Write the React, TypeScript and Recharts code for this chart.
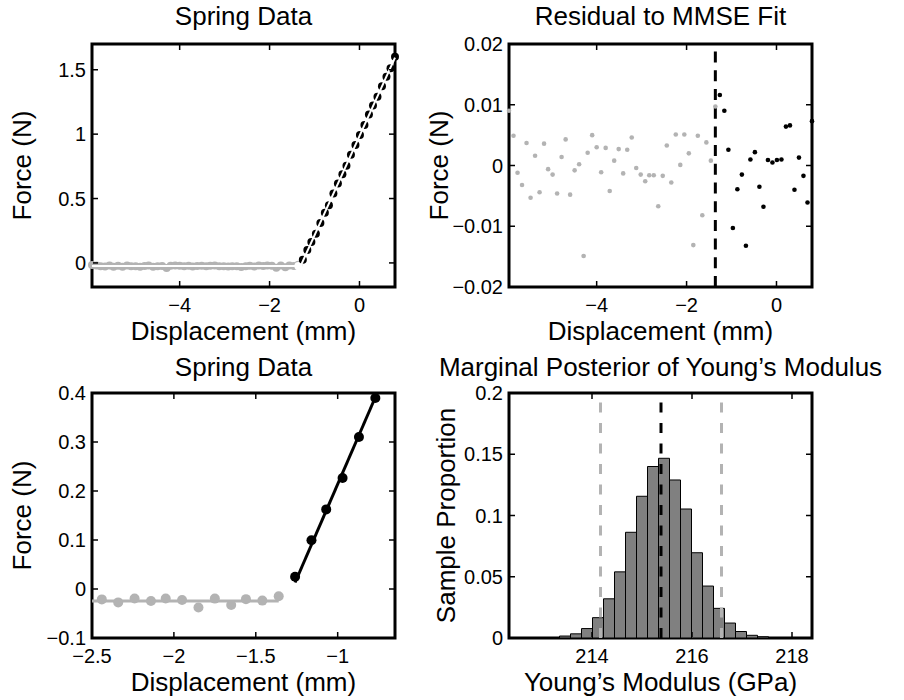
import React from 'react';
import { ComposedChart, Scatter, XAxis, YAxis, ReferenceLine, ReferenceArea, Bar } from 'recharts';

// ---------- data ----------
const displacement = [
  -5.95, -5.85, -5.76, -5.66, -5.56, -5.47, -5.37, -5.27, -5.17, -5.08,
  -4.98, -4.88, -4.78, -4.69, -4.59, -4.49, -4.39, -4.29, -4.2, -4.1,
  -4.0, -3.9, -3.8, -3.71, -3.61, -3.51, -3.41, -3.32, -3.22, -3.12,
  -3.02, -2.92, -2.83, -2.73, -2.63, -2.53, -2.44, -2.34, -2.24, -2.14,
  -2.05, -1.95, -1.85, -1.75, -1.65, -1.56, -1.46, -1.36, -1.26, -1.16,
  -1.07, -0.97, -0.87, -0.77, -0.68, -0.58, -0.48, -0.38, -0.29, -0.19,
  -0.09, 0.01, 0.11, 0.21, 0.3, 0.4, 0.5, 0.6, 0.69, 0.79,
];
const force = [
  -0.0155, -0.0196, -0.0257, -0.0277, -0.0208, -0.0298, -0.0229, -0.0289, -0.0209, -0.0251,
  -0.026, -0.0291, -0.0231, -0.0202, -0.0293, -0.0253, -0.0243, -0.0394, -0.0224, -0.0195,
  -0.0215, -0.0256, -0.0216, -0.0287, -0.0237, -0.0218, -0.0258, -0.0219, -0.0199, -0.0249,
  -0.026, -0.0271, -0.0261, -0.0261, -0.0312, -0.0262, -0.0212, -0.0273, -0.0194, -0.0244,
  -0.0194, -0.0225, -0.0376, -0.0196, -0.0327, -0.0207, -0.0237, -0.0148, 0.0249, 0.0995,
  0.1625, 0.2267, 0.3102, 0.3898, 0.4475, 0.5388, 0.6172, 0.6886, 0.7547, 0.8395,
  0.9163, 0.9938, 1.071, 1.1535, 1.2232, 1.2897, 1.3721, 1.4463, 1.5113, 1.6018,
];
const residual = [
  0.009, 0.0049, -0.0012, -0.0032, 0.0037, -0.0053, 0.0016, -0.0044, 0.0036, -0.0006,
  -0.0015, -0.0046, 0.0014, 0.0043, -0.0048, -0.0008, 0.0002, -0.0149, 0.0021, 0.005,
  0.003, -0.0011, 0.0029, -0.0042, 0.0008, 0.0027, -0.0013, 0.0026, 0.0046, -0.0004,
  -0.0015, -0.0026, -0.0016, -0.0016, -0.0067, -0.0017, 0.0033, -0.0028, 0.0051, 0.0001,
  0.0051, 0.002, -0.0131, 0.0049, -0.0082, 0.0038, 0.0008, 0.0097, 0.0116, 0.009,
  0.0026, -0.0103, -0.0039, -0.0015, -0.0132, 0.001, 0.0022, -0.0035, -0.0068, 0.0009,
  0.0005, 0.0009, 0.001, 0.0064, 0.0066, -0.004, 0.0013, -0.0017, -0.0061, 0.0073,
];
const contactIndex = 48; // first point in contact (black)
const zoomStart = 36;
const zoomEnd = 54;

// MMSE fit lines (displacement, force)
const flatFitX = [-5.95, -1.31];
const flatFitY = [-0.0245, -0.0245];
const slopeFitX = [-1.31, 0.79];
const slopeFitY = [-0.0245, 1.5945];
const contactPointX = [-1.36];
const contactPointY = [-0.0245];
const zoomFlatFitX = [-5.95, -1.36];
const zoomFlatFitY = [-0.0245, -0.0245];
const zoomSlopeFitX = [-1.26, -0.77];
const zoomSlopeFitY = [0.0133, 0.3913];
const contactThreshold = -1.36;

// Histogram of Young's modulus
const modulusBins = [
  213.46, 213.68, 213.9, 214.12, 214.34, 214.56, 214.78, 215.0, 215.22, 215.44,
  215.66, 215.88, 216.1, 216.32, 216.54, 216.76, 216.98, 217.2, 217.42,
];
const proportion = [
  0.0016, 0.0034, 0.0077, 0.0166, 0.032, 0.054, 0.0863, 0.1157, 0.14, 0.1467,
  0.129, 0.1053, 0.0696, 0.0424, 0.0242, 0.0122, 0.0053, 0.0022, 0.001,
];
const posteriorMean = 215.38;
const credibleLow = 214.17;
const credibleHigh = 216.59;

// axis ranges and ticks
const fullXDomain = [-5.95, 0.79];
const fullXTicks = [-4, -2, 0];
const forceDomain = [-0.187, 1.7];
const forceTicks = [0, 0.5, 1, 1.5];
const residualDomain = [-0.02, 0.02];
const residualTicks = [-0.02, -0.01, 0, 0.01, 0.02];
const zoomXDomain = [-2.5, -0.65];
const zoomXTicks = [-2.5, -2, -1.5, -1];
const zoomYDomain = [-0.1, 0.4];
const zoomYTicks = [-0.1, 0, 0.1, 0.2, 0.3, 0.4];
const modulusDomain = [212.34, 218.4];
const modulusTicks = [214, 216, 218];
const proportionDomain = [0, 0.2];
const proportionTicks = [0, 0.05, 0.1, 0.15, 0.2];

// ---------- styling ----------
const FONT = '"Liberation Sans", Arial, Helvetica, sans-serif';
const GRAY = '#b3b3b3';
const ML = 70, MT = 10, MR = 10, XH = 40;

type Geo = { left: number; top: number; w: number; h: number };
const G1: Geo = { left: 92, top: 44, w: 303, h: 243 };
const G2: Geo = { left: 509, top: 44, w: 303, h: 243 };
const G3: Geo = { left: 92, top: 393, w: 303, h: 245 };
const G4: Geo = { left: 509, top: 393, w: 303, h: 245 };

const fmt = (v: number) => String(v).replace('-', '\u2212');

const pts = (xs: number[], ys: number[]) => xs.map((x, i) => ({ x, y: ys[i] }));

const xTick = (g: Geo) => (props: any) => {
  const { x, payload } = props;
  const top = MT, bottom = MT + g.h;
  return (
    <g>
      <line x1={x} x2={x} y1={bottom - 1} y2={bottom - 6} stroke="#000" strokeWidth={1.5} />
      <line x1={x} x2={x} y1={top + 1} y2={top + 6} stroke="#000" strokeWidth={1.5} />
      <text x={x} y={bottom + 24.5} textAnchor="middle" fontSize={20} fontFamily={FONT} fill="#000">
        {fmt(payload.value)}
      </text>
    </g>
  );
};

const yTick = (g: Geo) => (props: any) => {
  const { y, payload } = props;
  const left = ML, right = ML + g.w;
  return (
    <g>
      <line x1={left + 1} x2={left + 6} y1={y} y2={y} stroke="#000" strokeWidth={1.5} />
      <line x1={right - 1} x2={right - 6} y1={y} y2={y} stroke="#000" strokeWidth={1.5} />
      <text x={left - 6} y={y + 7} textAnchor="end" fontSize={20} fontFamily={FONT} fill="#000">
        {fmt(payload.value)}
      </text>
    </g>
  );
};

const axes = (g: Geo, xd: number[], xt: number[], yd: number[], yt: number[], overflow: boolean) => [
  <XAxis key="x" xAxisId={0} type="number" dataKey="x" domain={xd} ticks={xt} interval={0}
    allowDataOverflow={overflow} axisLine={false} tickLine={false} tick={xTick(g)} height={XH} />,
  <YAxis key="y" yAxisId={0} type="number" dataKey="y" domain={yd} ticks={yt} interval={0}
    allowDataOverflow={overflow} axisLine={false} tickLine={false} tick={yTick(g)} width={ML} />,
];

const box = (xd: number[], yd: number[]) => (
  <ReferenceArea x1={xd[0]} x2={xd[1]} y1={yd[0]} y2={yd[1]} fill="none" fillOpacity={0}
    stroke="#000" strokeWidth={3} ifOverflow="visible" />
);

const dot = (r: number, color: string) => (props: any) => (
  <circle cx={props.cx} cy={props.cy} r={r} fill={color} stroke="none" />
);
const noShape = () => <g />;

const Panel = ({ g, data, children }: { g: Geo; data?: any[]; children: any }) => (
  <div style={{ position: 'absolute', left: g.left - ML, top: g.top - MT }}>
    <ComposedChart width={g.w + ML + MR} height={g.h + MT + XH} data={data}
      margin={{ top: MT, right: MR, bottom: 0, left: 0 }} barCategoryGap={0} barGap={0}>
      {children}
    </ComposedChart>
  </div>
);

export default function App() {
  const all = pts(displacement, force);
  const grayForce = all.slice(0, contactIndex);
  const blackForce = all.slice(contactIndex);
  const res = pts(displacement, residual);
  const grayRes = res.slice(0, contactIndex);
  const blackRes = res.slice(contactIndex);
  const zoomGray = all.slice(zoomStart, contactIndex);
  const zoomBlack = all.slice(contactIndex, zoomEnd);
  const hist = modulusBins.map((x, i) => ({ x, p: proportion[i] }));

  const T = (x: number, y: number, s: string, rot = false) => (
    <text x={x} y={y} textAnchor="middle" fontSize={26} fontFamily={FONT} fill="#000"
      transform={rot ? `rotate(-90 ${x} ${y})` : undefined}>{s}</text>
  );

  return (
    <div style={{ position: 'absolute', left: 0, top: 0, width: 904, height: 700, background: '#fff' }}>
      <Panel g={G1}>
        {axes(G1, fullXDomain, fullXTicks, forceDomain, forceTicks, false)}
        {box(fullXDomain, forceDomain)}
        <Scatter data={grayForce} shape={dot(4, GRAY)} isAnimationActive={false} />
        <Scatter data={pts(flatFitX, flatFitY)} shape={noShape} line={{ stroke: '#fff', strokeWidth: 2 }} isAnimationActive={false} />
        <Scatter data={pts(contactPointX, contactPointY)} shape={dot(4, '#fff')} isAnimationActive={false} />
        <Scatter data={blackForce} shape={dot(4, '#000')} isAnimationActive={false} />
        <Scatter data={pts(slopeFitX, slopeFitY)} shape={noShape} line={{ stroke: '#fff', strokeWidth: 2 }} isAnimationActive={false} />
      </Panel>

      <Panel g={G2}>
        {axes(G2, fullXDomain, fullXTicks, residualDomain, residualTicks, false)}
        {box(fullXDomain, residualDomain)}
        <Scatter data={grayRes} shape={dot(2.3, GRAY)} isAnimationActive={false} />
        <Scatter data={blackRes} shape={dot(2.3, '#000')} isAnimationActive={false} />
        <ReferenceLine x={contactThreshold} stroke="#000" strokeWidth={3} strokeDasharray="11 7.7" />
      </Panel>

      <Panel g={G3}>
        {axes(G3, zoomXDomain, zoomXTicks, zoomYDomain, zoomYTicks, true)}
        {box(zoomXDomain, zoomYDomain)}
        <Scatter data={pts(zoomFlatFitX, zoomFlatFitY)} shape={noShape} line={{ stroke: GRAY, strokeWidth: 3 }} isAnimationActive={false} />
        <Scatter data={zoomGray} shape={dot(5, GRAY)} isAnimationActive={false} />
        <Scatter data={pts(zoomSlopeFitX, zoomSlopeFitY)} shape={noShape} line={{ stroke: '#000', strokeWidth: 3 }} isAnimationActive={false} />
        <Scatter data={zoomBlack} shape={dot(5, '#000')} isAnimationActive={false} />
      </Panel>

      <Panel g={G4} data={hist}>
        <XAxis type="number" dataKey="x" domain={modulusDomain} ticks={modulusTicks} interval={0}
          axisLine={false} tickLine={false} tick={xTick(G4)} height={XH} />
        <YAxis type="number" domain={proportionDomain} ticks={proportionTicks} interval={0}
          axisLine={false} tickLine={false} tick={yTick(G4)} width={ML} />
        {box(modulusDomain, proportionDomain)}
        <Bar dataKey="p" fill="#808080" stroke="#000" strokeWidth={1} isAnimationActive={false} />
        <ReferenceLine x={credibleLow} stroke={GRAY} strokeWidth={3} strokeDasharray="10 10.5" />
        <ReferenceLine x={credibleHigh} stroke={GRAY} strokeWidth={3} strokeDasharray="10 10.5" />
        <ReferenceLine x={posteriorMean} stroke="#000" strokeWidth={3} strokeDasharray="10 10.5" />
      </Panel>

      <svg width={904} height={700} style={{ position: 'absolute', left: 0, top: 0, pointerEvents: 'none' }}>
        {T(243.5, 25, 'Spring Data')}
        {T(660.5, 25, 'Residual to MMSE Fit')}
        {T(243.5, 376, 'Spring Data')}
        {T(660.5, 376, 'Marginal Posterior of Young\u2019s Modulus')}
        {T(243.5, 340, 'Displacement (mm)')}
        {T(660.5, 340, 'Displacement (mm)')}
        {T(243.5, 691, 'Displacement (mm)')}
        {T(660.5, 691, 'Young\u2019s Modulus (GPa)')}
        {T(31, 165.5, 'Force (N)', true)}
        {T(448, 165.5, 'Force (N)', true)}
        {T(31, 515.5, 'Force (N)', true)}
        {T(455, 515.5, 'Sample Proportion', true)}
      </svg>
    </div>
  );
}
